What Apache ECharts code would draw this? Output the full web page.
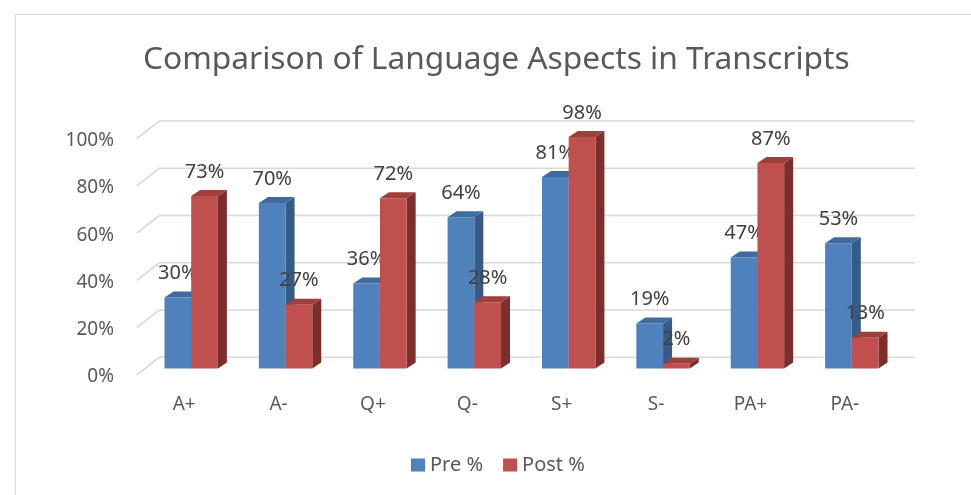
<!DOCTYPE html>
<html>
<head>
<meta charset="utf-8">
<script src="https://cdn.jsdelivr.net/npm/echarts@6/dist/echarts.min.js"></script>
<style>
html,body{margin:0;padding:0;background:#fff;}
#c{width:971px;height:495px;}
</style>
</head>
<body>
<div id="c"></div>
<script>
const categories = ['A+', 'A-', 'Q+', 'Q-', 'S+', 'S-', 'PA+', 'PA-'];
const preValues = [30, 70, 36, 64, 81, 19, 47, 53];
const postValues = [73, 27, 72, 28, 98, 2, 87, 13];
const yTicks = [0, 20, 40, 60, 80, 100];
const yTickLabels = ['0%', '20%', '40%', '60%', '80%', '100%'];

const FONT = 'Noto Sans';
const TEXT = '#595959';
const DX = 9, DY = 6; // bar depth

function barRenderer(side, front, sideCol, topCol) {
  return function (params, api) {
    const idx = api.value(0);
    const v = api.value(1);
    const c = api.coord([idx, v]);
    const base = api.coord([idx, 0]);
    const band = api.size([1, 0])[0];
    const bw = band * 0.283;
    const x0 = side === 0 ? c[0] - bw : c[0];
    const x1 = x0 + bw;
    const yt = c[1], yb = base[1];
    return {
      type: 'group',
      children: [
        { type: 'polygon', shape: { points: [[x1, yt], [x1 + DX, yt - DY], [x1 + DX, yb - DY], [x1, yb]] }, style: { fill: sideCol } },
        { type: 'polygon', shape: { points: [[x0, yt], [x0 + DX, yt - DY], [x1 + DX, yt - DY], [x1, yt]] }, style: { fill: topCol } },
        { type: 'rect', shape: { x: x0, y: yt, width: bw, height: yb - yt }, style: { fill: front } },
        { type: 'text', style: { text: v + '%', x: (x0 + x1) / 2, y: yt - 24, align: 'center', verticalAlign: 'middle', fill: '#404040', font: '20px "' + FONT + '"' } }
      ]
    };
  };
}

const chart = echarts.init(document.getElementById('c'));
chart.setOption({
  animation: false,
  backgroundColor: '#fff',
  graphic: [
    { type: 'rect', shape: { x: 15.5, y: 14.5, width: 1000, height: 1000 }, style: { fill: 'none', stroke: '#d9d9d9', lineWidth: 1 }, silent: true, z: -10 }
  ],
  title: {
    text: 'Comparison of Language Aspects in Transcripts',
    left: 138,
    top: 39,
    textStyle: { fontFamily: FONT, fontSize: 31.7, fontWeight: 'normal', color: TEXT }
  },
  legend: {
    top: 450,
    left: 406,
    itemWidth: 14,
    itemHeight: 13,
    itemGap: 20,
    icon: 'rect',
    textStyle: { fontFamily: FONT, fontSize: 20, color: TEXT },
    data: ['Pre %', 'Post %']
  },
  grid: { left: 144, right: 72, top: 132.2, bottom: 126.5 },
  xAxis: {
    type: 'category',
    data: categories,
    axisLine: { show: false },
    axisTick: { show: false },
    axisLabel: { margin: 27, padding: [0, 14, 0, 0], fontFamily: FONT, fontSize: 19, color: TEXT }
  },
  yAxis: {
    type: 'value',
    min: 0, max: 100, interval: 20,
    axisLine: { show: false },
    axisTick: { show: false },
    splitLine: { show: false },
    axisLabel: { show: false }
  },
  series: [
    {
      type: 'custom',
      silent: true,
      z: 1,
      data: yTicks.map((v, i) => [0, v, i]),
      renderItem: function (params, api) {
        const cs = params.coordSys;
        const v = api.value(1);
        const i = api.value(2);
        const y = api.coord([0, v])[1];
        const fx = cs.x - 7.3, fy = y + 6.5;
        const bx = cs.x + 15.3, by = y - 11.2;
        const rx = cs.x + cs.width + 16;
        return {
          type: 'group',
          children: [
            { type: 'polyline', shape: { points: [[fx, fy], [bx, by], [rx, by]] }, style: { stroke: '#d9d9d9', lineWidth: 1.6, fill: null } },
            { type: 'text', style: { text: yTickLabels[i], x: 114, y: fy + 2, align: 'right', verticalAlign: 'middle', fill: TEXT, font: '19px "' + FONT + '"' } }
          ]
        };
      }
    },
    {
      name: 'Pre %',
      type: 'custom',
      z: 2,
      itemStyle: { color: '#4f81bd' },
      data: preValues.map((v, i) => [i, v]),
      renderItem: barRenderer(0, '#4f81bd', '#365b87', '#3f6b9f')
    },
    {
      name: 'Post %',
      type: 'custom',
      z: 3,
      itemStyle: { color: '#c0504d' },
      data: postValues.map((v, i) => [i, v]),
      renderItem: barRenderer(1, '#c0504d', '#7d2e2c', '#9f3f3c')
    }
  ]
});
</script>
</body>
</html>
